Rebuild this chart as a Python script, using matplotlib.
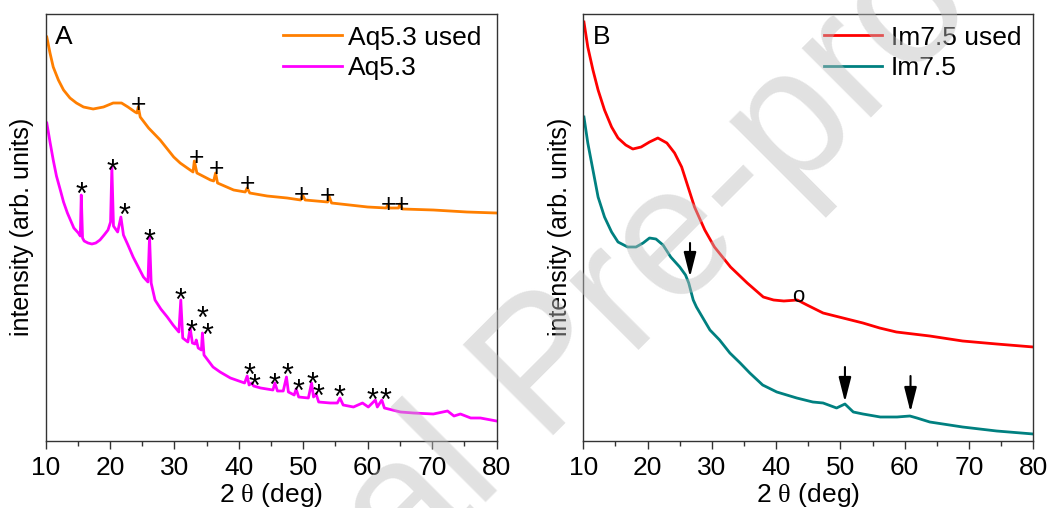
import matplotlib
matplotlib.use("Agg")
import matplotlib.pyplot as plt
from matplotlib.ticker import MultipleLocator

plt.rcParams['font.family'] = ['Liberation Sans', 'DejaVu Sans']
plt.rcParams['mathtext.fontset'] = 'custom'
plt.rcParams['mathtext.rm'] = 'Liberation Serif'
plt.rcParams['mathtext.it'] = 'Liberation Serif'

# ---------------- data (2 theta in deg, intensity in arb. units) ----------------
aq_used_x = [10.2, 10.7, 11.2, 12.0, 12.8, 13.8, 14.8, 15.9, 17.4, 19.0, 20.5, 21.8, 22.8, 23.9, 24.2,
             24.4, 24.7, 26.0, 27.8, 29.9, 30.9, 32.0, 32.9, 33.1, 33.5, 35.6, 36.1, 36.4, 36.7, 39.2,
             41.0, 41.3, 41.7, 44.4, 47.5, 49.6, 49.9, 50.3, 53.8, 54.0, 54.4, 60.0, 62.9, 63.1, 63.4,
             64.8, 65.0, 65.4, 70.2, 75.4, 80.0]
aq_used_y = [403, 387, 373, 360, 350, 342, 337, 333, 331, 333, 337, 337, 333, 328, 327,
             333, 323, 312, 300, 283, 277, 272, 268, 279, 267, 260, 259, 267, 257, 250,
             248, 252, 247, 244, 242, 240, 245, 240, 238, 244, 237, 233, 232, 235, 232,
             232, 236, 231, 230, 228, 227]

aq_x = [10.2, 10.7, 11.2, 11.7, 12.3, 12.8, 13.4, 14.4, 15.1, 15.4, 15.55, 15.75, 16.0, 16.6, 17.2,
        17.8, 18.45, 19.1, 19.7, 20.1, 20.3, 20.55, 21.2, 21.7, 22.1, 22.8, 23.6, 24.4, 25.2, 25.9,
        26.15, 26.4, 27.0, 27.9, 28.9, 29.8, 30.7, 31.0, 31.3, 32.1, 32.45, 32.8, 33.2, 33.4, 33.7,
        34.2, 34.35, 34.6, 35.3, 36.0, 37.1, 38.7, 40.9, 41.3, 41.6, 42.0, 42.3, 43.4, 45.3, 45.6,
        46.0, 46.9, 47.4, 47.7, 48.6, 48.9, 49.3, 50.8, 51.3, 51.6, 52.0, 52.4, 54.2, 55.3, 55.7,
        56.2, 57.8, 59.2, 60.1, 61.2, 61.5, 62.2, 62.6, 65.1, 67.1, 70.2, 72.4, 73.4, 74.4, 76.0,
        77.5, 80.0]
aq_y = [317, 298, 280, 264, 250, 238, 227, 212, 207, 204, 245, 202, 199, 197, 196,
        197, 200, 205, 210, 218, 273, 214, 208, 223, 205, 195, 183, 173, 163, 158,
        203, 157, 140, 131, 123, 115, 108, 140, 102, 98, 112, 97, 96, 100, 92,
        90, 107, 85, 79, 73, 68, 62, 57, 64, 55, 57, 54, 52, 50, 57,
        49, 49, 63, 48, 45, 51, 43, 42, 57, 43, 46, 38, 37, 37, 42,
        35, 33, 37, 33, 40, 33, 40, 32, 28, 27, 26, 29, 24, 26, 22,
        22, 19]

im_used_x = [10.1, 10.7, 11.5, 12.3, 13.3, 14.4, 15.4, 16.6, 17.7, 19.0, 20.3, 21.6, 23.0, 24.2, 25.3,
             26.3, 27.3, 28.9, 30.4, 32.9, 35.5, 38.0, 39.6, 41.2, 43.3, 44.8, 47.3, 50.4, 53.5, 56.1,
             58.7, 63.9, 69.0, 74.3, 80.0]
im_used_y = [418, 393, 370, 350, 330, 313, 302, 295, 291, 293, 298, 302, 297, 287, 273,
             253, 233, 210, 193, 173, 157, 143, 140, 139, 140, 135, 127, 122, 117, 112,
             108, 104, 99, 96, 93]

im_x = [10.1, 10.7, 11.5, 12.3, 13.3, 14.4, 15.4, 16.9, 18.2, 19.3, 20.3, 21.3, 22.4, 23.6, 25.0,
        25.9, 26.4, 27.1, 27.6, 29.7, 31.2, 32.8, 34.4, 35.9, 37.9, 40.1, 43.2, 45.7, 47.3, 49.4,
        50.7, 52.0, 53.5, 56.2, 58.8, 60.8, 61.9, 63.9, 69.0, 74.3, 80.0]
im_y = [323, 297, 270, 243, 223, 208, 198, 193, 193, 197, 202, 201, 195, 183, 173,
        165, 157, 140, 133, 110, 100, 87, 77, 67, 55, 48, 42, 38, 37, 32,
        36, 28, 26, 23, 23, 24, 22, 18, 13, 9, 6]

# peak markers (centre of symbol, in data units)
plus_x = [24.5, 33.5, 36.5, 41.3, 49.8, 53.8, 63.2, 65.3]
plus_y = [337, 284, 273, 258, 247, 246, 237, 237]
star_x = [15.6, 20.4, 22.2, 26.1, 31.0, 32.7, 34.3, 35.2, 41.7, 42.4, 45.6, 47.6, 49.3, 51.5,
          52.3, 55.7, 60.8, 62.8]
star_y = [254, 277, 233, 207, 148, 116, 130, 113, 73, 62, 63, 73, 57, 64, 52, 51, 48, 48]
circ_x = [43.4]
circ_y = [144]
arrow_x = [26.6, 50.7, 60.9]
arrow_top = [197, 73, 64]
arrow_tip = [163, 38, 28]

labels_left = ["Aq5.3 used", "Aq5.3"]
labels_right = ["Im7.5 used", "Im7.5"]
colors_left = ["#ff7f00", "#ff00ff"]
colors_right = ["#ff0000", "#008080"]

# ---------------- figure ----------------
W, H = 1049, 508
fig = plt.figure(figsize=(W / 100, H / 100), dpi=100)

def px_axes(x0, x1, y0, y1):
    return fig.add_axes([x0 / W, 1 - y1 / H, (x1 - x0) / W, (y1 - y0) / H])

axA = px_axes(45.5, 496.5, 14, 440.5)
axB = px_axes(583.3, 1033.3, 14, 440.5)

LW = 2.0
axA.plot(aq_used_x, aq_used_y, color=colors_left[0], lw=LW, label=labels_left[0])
axA.plot(aq_x, aq_y, color=colors_left[1], lw=LW, label=labels_left[1])
axB.plot(im_used_x, im_used_y, color=colors_right[0], lw=LW, label=labels_right[0])
axB.plot(im_x, im_y, color=colors_right[1], lw=LW, label=labels_right[1])

def mark(ax, xs, ys, s, fs, c):
    for x, y in zip(xs, ys):
        ax.annotate(s, (x, y), xytext=(0, -c * fs), textcoords='offset points',
                    ha='center', va='baseline', fontsize=fs, color='black')

mark(axA, plus_x, plus_y, '+', 19, 0.353)
mark(axA, star_x, star_y, '*', 22, 0.575)
mark(axB, circ_x, circ_y, 'o', 16, 0.265)
for x, t, b in zip(arrow_x, arrow_top, arrow_tip):
    axB.annotate('', xy=(x, b), xytext=(x, t),
                 arrowprops=dict(arrowstyle='-|>,head_length=0.75,head_width=0.19',
                                 color='black', lw=1.5, mutation_scale=20,
                                 shrinkA=0, shrinkB=0))

FS = 19
for ax, lab in ((axA, 'A'), (axB, 'B')):
    ax.set_xlim(10, 80)
    ax.set_ylim(-0.5, 426)
    ax.xaxis.set_major_locator(MultipleLocator(10))
    ax.xaxis.set_minor_locator(MultipleLocator(5))
    ax.set_yticks([])
    ax.tick_params(axis='x', which='major', direction='out', length=6, width=1,
                   labelsize=FS, color='#333333', pad=5)
    ax.tick_params(axis='x', which='minor', direction='out', length=3.5, width=1,
                   color='#333333')
    for sp in ax.spines.values():
        sp.set_color('#333333')
        sp.set_linewidth(1.0)
    ax.set_xlabel(r'2 $\theta$ (deg)', fontsize=FS, labelpad=1)
    ax.set_ylabel('intensity (arb. units)', fontsize=18, labelpad=8)
    ax.text(0.021, 0.974, lab, transform=ax.transAxes, ha='left', va='top', fontsize=FS)

axA.legend(loc='upper left', bbox_to_anchor=(0.527, 0.9726), frameon=False, fontsize=FS,
           handlelength=2.23, handletextpad=0.23, labelspacing=0.24, borderpad=0,
           borderaxespad=0)
axB.legend(loc='upper left', bbox_to_anchor=(0.535, 0.9726), frameon=False, fontsize=FS,
           handlelength=2.2, handletextpad=0.34, labelspacing=0.24, borderpad=0,
           borderaxespad=0)

# watermark
fig.text(78 / W, 1 - 910 / H, 'Journal Pre-proof', rotation=45, rotation_mode='anchor',
         ha='left', va='baseline', fontsize=133, color='#bebebe', alpha=0.45, zorder=10)

fig.savefig('out.png', dpi=100)
